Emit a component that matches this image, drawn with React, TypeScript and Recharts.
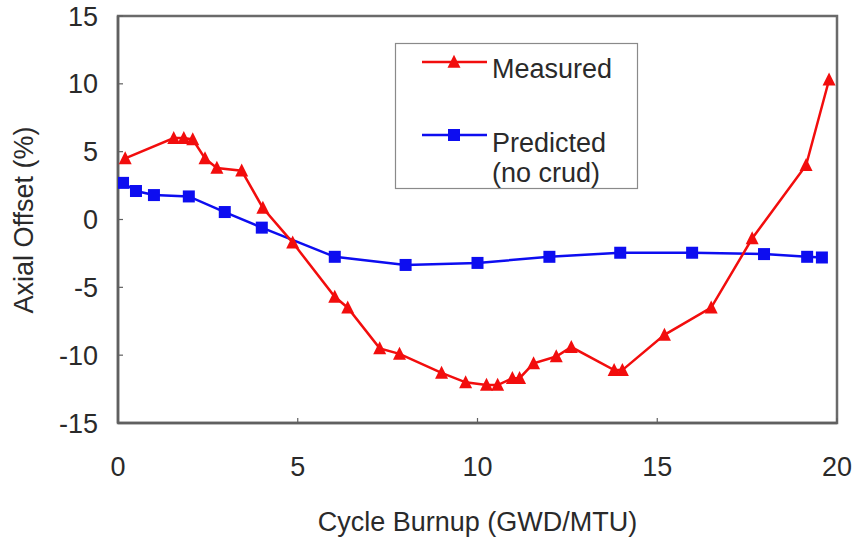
import React from 'react'
import { LineChart, Line, XAxis, YAxis, Legend, ReferenceArea, Label } from 'recharts'

// Measured axial offset (red triangles)
const measuredX = [0.2, 1.55, 1.83, 2.08, 2.42, 2.75, 3.44, 4.03, 4.86, 6.03, 6.39, 7.28, 7.83, 9.0, 9.67, 10.25, 10.56, 10.97, 11.17, 11.56, 12.19, 12.61, 13.8, 14.03, 15.2, 16.5, 17.64, 19.14, 19.78]
const measuredY = [4.5, 6.0, 6.0, 5.9, 4.5, 3.8, 3.6, 0.85, -1.7, -5.7, -6.5, -9.5, -9.9, -11.3, -12.0, -12.2, -12.2, -11.7, -11.7, -10.6, -10.1, -9.4, -11.1, -11.1, -8.5, -6.5, -1.4, 4.0, 10.3]

// Predicted (no crud) axial offset (blue squares)
const predictedX = [0.14, 0.5, 1.0, 1.97, 2.97, 4.0, 6.03, 8.0, 10.0, 12.0, 13.97, 15.97, 17.97, 19.17, 19.58]
const predictedY = [2.7, 2.1, 1.8, 1.7, 0.55, -0.6, -2.75, -3.35, -3.2, -2.75, -2.45, -2.45, -2.55, -2.75, -2.8]

const xTicks = [0, 5, 10, 15, 20]
const yTicks = [-15, -10, -5, 0, 5, 10, 15]

const RED = '#f20d0d'
const BLUE = '#0d0df0'
const TEXT = '#2a2a2a'
const FONT = '"Liberation Sans", Arial, sans-serif'

const measured = measuredX.map((x, i) => ({ x, y: measuredY[i] }))
const predicted = predictedX.map((x, i) => ({ x, y: predictedY[i] }))

function Triangle({ cx, cy, fill }: { cx: number; cy: number; fill: string }) {
  const s = 13
  return (
    <polygon
      points={`${cx},${cy - s * 0.55} ${cx - s / 2},${cy + s * 0.45} ${cx + s / 2},${cy + s * 0.45}`}
      fill={fill}
    />
  )
}

function Square({ cx, cy, fill }: { cx: number; cy: number; fill: string }) {
  const s = 12
  return <rect x={cx - s / 2} y={cy - s / 2} width={s} height={s} fill={fill} />
}

function LegendBox() {
  const textStyle = { fontFamily: FONT, fontSize: 27, fill: TEXT }
  return (
    <svg width={244} height={150} style={{ display: 'block', overflow: 'visible' }}>
      <rect x={0.5} y={0.5} width={242} height={145} fill="#fff" stroke="#8a8a8a" strokeWidth={1.2} />
      <line x1={27} x2={92} y1={19} y2={19} stroke={RED} strokeWidth={2.5} />
      <Triangle cx={59} cy={19} fill={RED} />
      <text x={97} y={35} {...textStyle}>Measured</text>
      <line x1={27} x2={92} y1={92} y2={92} stroke={BLUE} strokeWidth={2.5} />
      <Square cx={59} cy={92} fill={BLUE} />
      <text x={97} y={109} {...textStyle}>Predicted</text>
      <text x={97} y={139} {...textStyle}>(no crud)</text>
    </svg>
  )
}

export default function App() {
  const tick = { fontFamily: FONT, fontSize: 27, fill: TEXT }
  return (
    <div style={{ position: 'absolute', left: 0, top: 0, background: '#fff' }}>
      <LineChart width={855} height={539} margin={{ top: 16, right: 18, bottom: 0, left: 0 }}>
        <XAxis
          type="number"
          dataKey="x"
          domain={[0, 20]}
          ticks={xTicks}
          height={116}
          tick={tick}
          tickSize={-5}
          tickMargin={39}
          axisLine={{ stroke: '#606060', strokeWidth: 2.5 }}
          tickLine={{ stroke: '#606060', strokeWidth: 1.2 }}
          allowDataOverflow
        >
          <Label
            value="Cycle Burnup (GWD/MTU)"
            position="insideBottom"
            offset={8}
            style={{ fontFamily: FONT, fontSize: 27, fill: TEXT }}
          />
        </XAxis>
        <YAxis
          type="number"
          dataKey="y"
          domain={[-15, 15]}
          ticks={yTicks}
          width={118}
          tick={tick}
          tickSize={-5}
          tickMargin={25}
          axisLine={{ stroke: '#606060', strokeWidth: 2.5 }}
          tickLine={{ stroke: '#606060', strokeWidth: 1.2 }}
          allowDataOverflow
        >
          <Label
            content={() => (
              <text
                x={24}
                y={220}
                transform="rotate(-90 24 220)"
                textAnchor="middle"
                dominantBaseline="central"
                style={{ fontFamily: FONT, fontSize: 27, fill: TEXT }}
              >
                Axial Offset (%)
              </text>
            )}
          />
        </YAxis>
        <ReferenceArea x1={0} x2={20} y1={-15} y2={15} fill="none" stroke="#6a6a6a" strokeWidth={2.5} />
        <Legend
          layout="vertical"
          align="center"
          verticalAlign="middle"
          wrapperStyle={{ left: 395, top: 43, width: 244, height: 150 }}
          content={() => <LegendBox />}
        />
        <Line
          data={predicted}
          dataKey="y"
          name="Predicted (no crud)"
          stroke={BLUE}
          strokeWidth={2.5}
          isAnimationActive={false}
          dot={(p: any) => <Square key={`p${p.index}`} cx={p.cx} cy={p.cy} fill={BLUE} />}
          activeDot={false}
        />
        <Line
          data={measured}
          dataKey="y"
          name="Measured"
          stroke={RED}
          strokeWidth={2.5}
          isAnimationActive={false}
          dot={(p: any) => <Triangle key={`m${p.index}`} cx={p.cx} cy={p.cy} fill={RED} />}
          activeDot={false}
        />
      </LineChart>
    </div>
  )
}
